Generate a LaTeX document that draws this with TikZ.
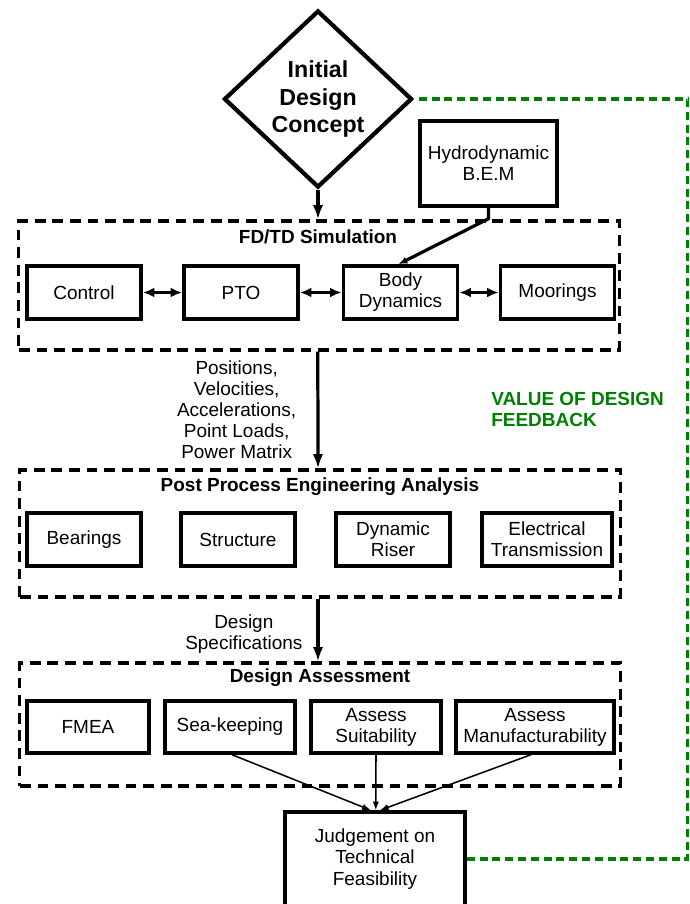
\documentclass[tikz,border=0pt]{standalone}
\usepackage{fontspec}
\setmainfont{Liberation Sans}
\usepackage{tikz}
\usetikzlibrary{shapes.geometric, arrows, arrows.meta}
\definecolor{fbgreen}{RGB}{0,128,0}
\tikzstyle{decision} = [diamond, minimum width=4.7cm, minimum height=4.425cm, inner sep=0pt, align=center, draw=black, line width=3pt, font=\fontsize{16.5}{19.5}\selectfont\bfseries]
\tikzstyle{process} = [rectangle, minimum width=2.85cm, minimum height=1.33cm, inner sep=1pt, text centered, align=center, draw=black, line width=2.4pt, font=\fontsize{13.5}{15}\selectfont]
\tikzstyle{group} = [rectangle, minimum width=15cm, draw=black, line width=2.2pt, dash pattern=on 0.27cm off 0.17cm]
\tikzstyle{grouptitle} = [inner sep=0pt, font=\fontsize{13.5}{15}\selectfont\bfseries]
\tikzstyle{label} = [inner sep=0pt, align=center, font=\fontsize{13.5}{15}\selectfont]
\tikzstyle{arrow} = [line width=2.3pt,-{Latex[length=0.36cm,width=0.26cm]}]
\tikzstyle{smallarrow} = [line width=2.3pt,-{Latex[length=0.22cm,width=0.18cm]}]
\tikzstyle{dblarrow} = [line width=2.3pt,{Latex[length=0.29cm,width=0.24cm]}-{Latex[length=0.29cm,width=0.24cm]}]
\tikzstyle{thinarrow} = [line width=1.1pt,-{Latex[length=0.22cm,width=0.16cm]}]
\tikzstyle{feedback} = [fbgreen, line width=2.2pt, dash pattern=on 0.2cm off 0.12cm]

\begin{document}
\begin{tikzpicture}[x=0.025cm, y=-0.025cm]
\useasboundingbox (0,0) rectangle (690,904);

% top
\node (concept) [decision] at (318,99) {Initial\\Design\\Concept};
\node (hydro) [process, minimum width=3.425cm, minimum height=2.125cm] at (488.5,163.5) {Hydrodynamic\\B.E.M};

% FD/TD simulation
\node (sim) [group, minimum height=3.225cm] at (319,285.5) {};
\node (simtitle) [grouptitle] at (318,237) {FD/TD Simulation};
\node (control) [process] at (84,292.5) {Control};
\node (pto) [process] at (241,292.5) {PTO};
\node (body) [process] at (400.5,292.5) {Body\\Dynamics};
\node (moorings) [process] at (557.5,292.5) {Moorings};

% post processing
\node (post) [group, minimum height=3.175cm] at (320,533.5) {};
\node (posttitle) [grouptitle] at (320,487) {Post Process Engineering Analysis};
\node (bearings) [process] at (84,539.5) {Bearings};
\node (structure) [process] at (238,539.5) {Structure};
\node (riser) [process] at (393,539.5) {Dynamic\\Riser};
\node (electrical) [process, minimum width=3.25cm] at (547,539.5) {Electrical\\Transmission};

% assessment
\node (assess) [group, minimum height=3.075cm] at (320,724.5) {};
\node (assesstitle) [grouptitle] at (320,678) {Design Assessment};
\node (fmea) [process, minimum width=3.05cm, minimum height=1.3cm] at (88,727) {FMEA};
\node (seakeep) [process, minimum width=3.25cm, minimum height=1.3cm] at (230,727) {Sea-keeping};
\node (suit) [process, minimum width=3.25cm, minimum height=1.3cm] at (376,727) {Assess\\Suitability};
\node (manuf) [process, minimum width=3.95cm, minimum height=1.3cm] at (535,727) {Assess\\Manufacturability};
\node (judge) [process, minimum width=4.5cm, minimum height=2.35cm] at (375,859) {Judgement on\\Technical\\Feasibility};

\node (fbtext) [label, align=left, anchor=west, text=fbgreen, font=\fontsize{13.5}{15}\selectfont\bfseries] at (491,409.5) {VALUE OF DESIGN\\FEEDBACK};

\draw [arrow] (concept.south) -- (concept.south |- sim.north);
\draw [smallarrow] (hydro.south) -- ++(0,11) -- ([xshift=-0.05cm]body.north);
\draw [dblarrow] (control) -- (pto);
\draw [dblarrow] (pto) -- (body);
\draw [dblarrow] (body) -- (moorings);

\draw [arrow] ([xshift=-0.03cm]sim.south) -- node (simout) [label, left=0.5cm] {Positions,\\Velocities,\\Accelerations,\\Point Loads,\\Power Matrix} ([xshift=-0.05cm]post.north);
\draw [arrow] ([xshift=-0.05cm]post.south) -- node (postout) [label, left=0.35cm, yshift=-0.1cm] {Design\\Specifications} ([xshift=-0.05cm]assess.north);

\draw [thinarrow] ([xshift=0.05cm]seakeep.south) -- ([xshift=-0.1cm]judge.north);
\draw [thinarrow] (suit.south) -- ([xshift=0.02cm]judge.north);
\draw [thinarrow] ([xshift=-0.1cm]manuf.south) -- ([xshift=0.12cm]judge.north);

\draw [feedback] (judge.east) -- ++(221,0) |- (concept.east);

\end{tikzpicture}
\end{document}
